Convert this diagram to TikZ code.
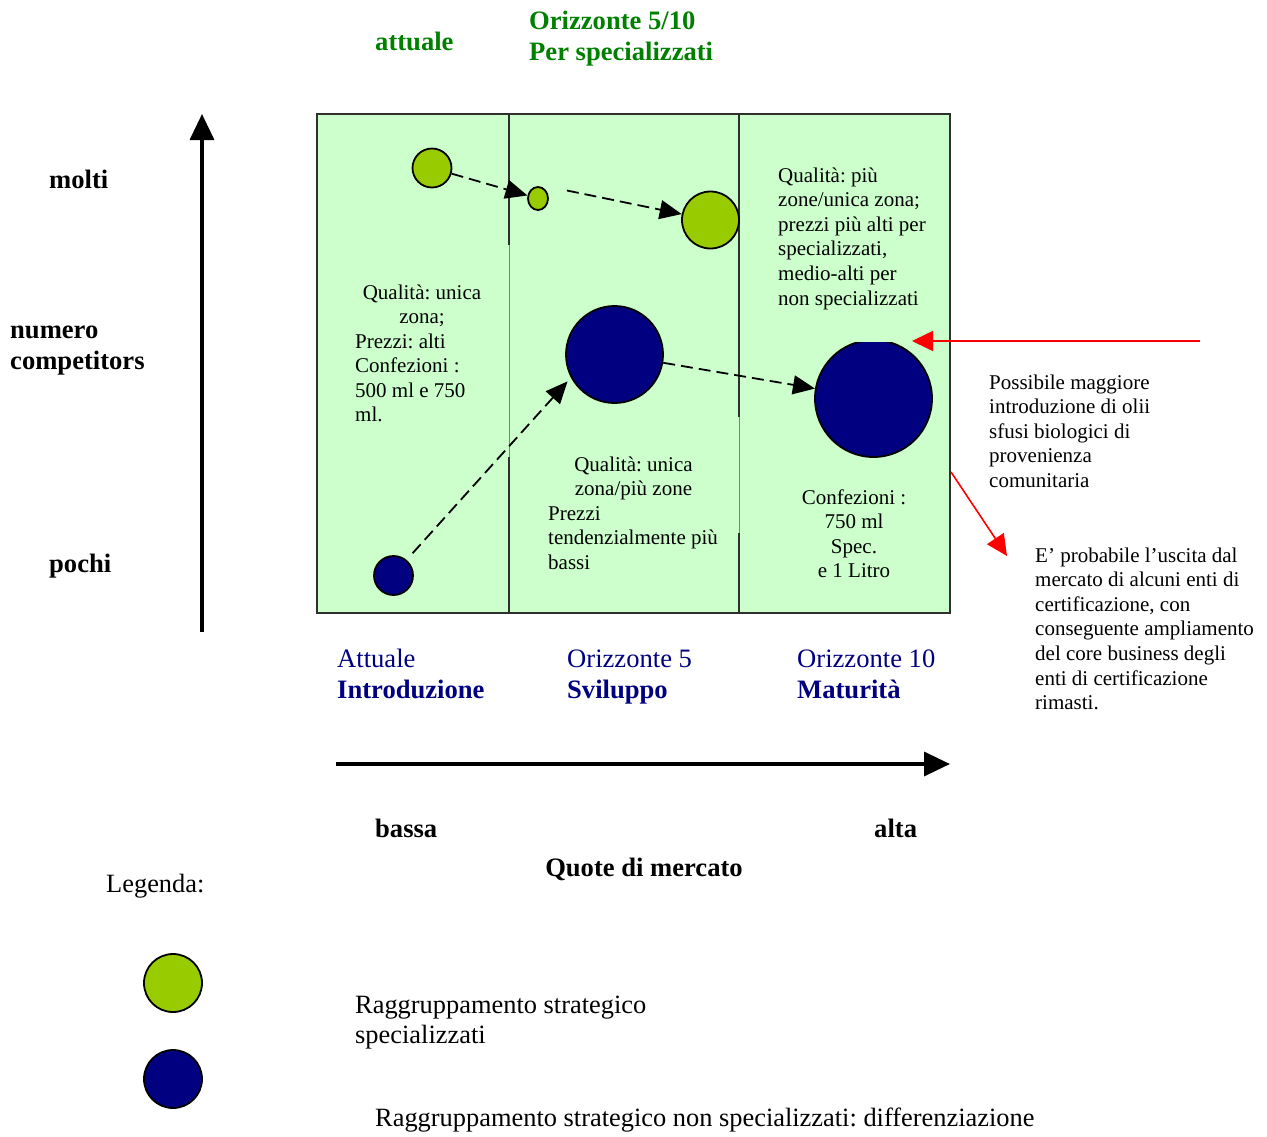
\documentclass[tikz,border=0pt]{standalone}
\usepackage{fontspec}
\setmainfont{Liberation Serif}
\usetikzlibrary{arrows.meta,calc,shapes.geometric}
\definecolor{boxgreen}{HTML}{CCFFCC}
\definecolor{limeg}{HTML}{99CC00}
\definecolor{navyb}{HTML}{000080}
\definecolor{darkg}{HTML}{008000}
\definecolor{edgegray}{HTML}{303030}
\frenchspacing
\begin{document}
\begin{tikzpicture}[x=1pt,y=-1pt,
  bubble/.style={circle,draw=black,line width=1.8pt,inner sep=0pt},
  txt/.style={font=\fontsize{21}{24.6}\selectfont,inner sep=0pt},
  lbl/.style={font=\fontsize{26.6}{31}\selectfont\bfseries,inner sep=0pt},
  reg/.style={font=\fontsize{26.4}{30}\selectfont,inner sep=0pt},
  colnm/.style={font=\fontsize{26.6}{31}\selectfont,inner sep=0pt,text=navyb,anchor=base west,align=left},
  darr/.style={line width=1.8pt,dash pattern=on 12pt off 6pt,-{Triangle[length=22pt,width=19pt]}},
  redarr/.style={red,line width=1.6pt,-{Triangle[length=21pt,width=20pt]}},
  axisarr/.style={line width=3.5pt,-{Triangle[length=26pt,width=24pt]}},
  divider/.style={edgegray,line width=1.8pt},
  thindiv/.style={gray,line width=0.8pt}]
\useasboundingbox (0,0) rectangle (1267,1136);

% main box
\fill[boxgreen] (317,114) rectangle (950,613);
\draw[divider] (509,114) -- (509,245);
\draw[thindiv] (509,245) -- (509,457);
\draw[divider] (509,457) -- (509,613);
\draw[divider] (739,114) -- (739,417);
\draw[thindiv] (739,417) -- (739,533);
\draw[divider] (739,533) -- (739,613);
\draw[edgegray,line width=2pt] (317,114) rectangle (950,613);

% bubbles
\node[bubble,fill=limeg,minimum size=39pt] (g1) at (432,168) {};
\node[ellipse,draw=black,line width=1.8pt,inner sep=0pt,fill=limeg,minimum width=20pt,minimum height=23pt] (g2) at (538,198.5) {};
\node[bubble,fill=limeg,minimum size=57pt] (g3) at (710.5,220) {};
\node[bubble,fill=navyb,minimum size=39pt] (b1) at (393.5,575.5) {};
\node[bubble,fill=navyb,minimum size=97pt] (b2) at (614.5,354.5) {};
\begin{scope}
  \clip (790,342.5) rectangle (950,470);
  \node[bubble,fill=navyb,minimum size=117pt] (b3) at (873.5,398.5) {};
\end{scope}

% dashed arrows
\draw[darr] (g1) -- (g2);
\draw[darr] ([xshift=18pt,yshift=8pt]g2.east) -- (g3);
\draw[darr,shorten <=9pt,shorten >=5pt] (b1.50) -- (b2.208);
\draw[darr] (b2) -- (b3);

% red arrows
\coordinate (r1s) at (1200,341);
\coordinate (r1e) at (912,341);
\draw[redarr] (r1s) -- (r1e);
\coordinate (r2s) at (951,472);
\coordinate (r2e) at (1007,556);
\draw[redarr] (r2s) -- (r2e);

% axes
\coordinate (vy0) at (202,632);
\coordinate (vy1) at (202,114);
\draw[axisarr] (vy0) -- (vy1);
\coordinate (hx0) at (336,764);
\coordinate (hx1) at (950,764);
\draw[axisarr] (hx0) -- (hx1);

% header labels (base = last line)
\node[lbl,text=darkg,anchor=base west] (hAtt) at (375,50) {attuale};
\node[lbl,text=darkg,anchor=base west,align=left] (hOr) at (529,60) {Orizzonte 5/10\\Per specializzati};

% y-axis labels
\node[lbl,anchor=base west] (yMolti) at (49,188) {molti};
\node[lbl,anchor=base west,align=left] (yNum) at (10,369) {numero\\competitors};
\node[lbl,anchor=base west] (yPochi) at (49,572) {pochi};

% x-axis labels
\node[lbl,anchor=base west] (xBassa) at (375,837) {bassa};
\node[lbl,anchor=base west] (xAlta) at (874,837) {alta};
\node[lbl,anchor=base] (xQuote) at (644,876) {Quote di mercato};

% column labels
\node[colnm] (cA) at (337,698) {Attuale\\\textbf{Introduzione}};
\node[colnm] (cB) at (567,698) {Orizzonte 5\\\textbf{Sviluppo}};
\node[colnm] (cC) at (797,698) {Orizzonte 10\\\textbf{Maturità}};

% box texts
\node[txt,anchor=base,align=center] (t1a) at (422,323.6) {Qualità: unica\\zona;};
\node[txt,anchor=base west,align=left] (t1b) at (355,421.8) {Prezzi: alti\\Confezioni :\\500 ml e 750\\ml.};
\node[txt,anchor=base,align=center] (t2a) at (633.5,495.6) {Qualità: unica\\zona/più zone};
\node[txt,anchor=base west,align=left] (t2b) at (548,569.2) {Prezzi\\tendenzialmente più\\bassi};
\node[txt,anchor=base west,align=left] (t3a) at (778,305) {Qualità: più\\zone/unica zona;\\prezzi più alti per\\specializzati,\\medio-alti per\\non specializzati};
\node[txt,anchor=base,align=center] (t3b) at (854,577.8) {Confezioni :\\750 ml\\Spec.\\e 1 Litro};

% annotations
\node[txt,anchor=base west,align=left] (n1) at (989,487.4) {Possibile maggiore\\introduzione di olii\\sfusi biologici di\\provenienza\\comunitaria};
\node[txt,anchor=base west,align=left] (n2) at (1035,709.6) {E’ probabile l’uscita dal\\mercato di alcuni enti di\\certificazione, con\\conseguente ampliamento\\del core business degli\\enti di certificazione\\rimasti.};

% legend
\node[reg,anchor=base west] (leg) at (106,892) {Legenda:};
\node[bubble,fill=limeg,minimum size=58pt] (lg1) at (173,983) {};
\node[bubble,fill=navyb,minimum size=58pt] (lg2) at (173,1079) {};
\node[reg,anchor=base west,align=left] (lt1) at (355,1043) {Raggruppamento strategico\\specializzati};
\node[reg,anchor=base west] (lt2) at (375,1126) {Raggruppamento strategico non specializzati: differenziazione};
\end{tikzpicture}
\end{document}
